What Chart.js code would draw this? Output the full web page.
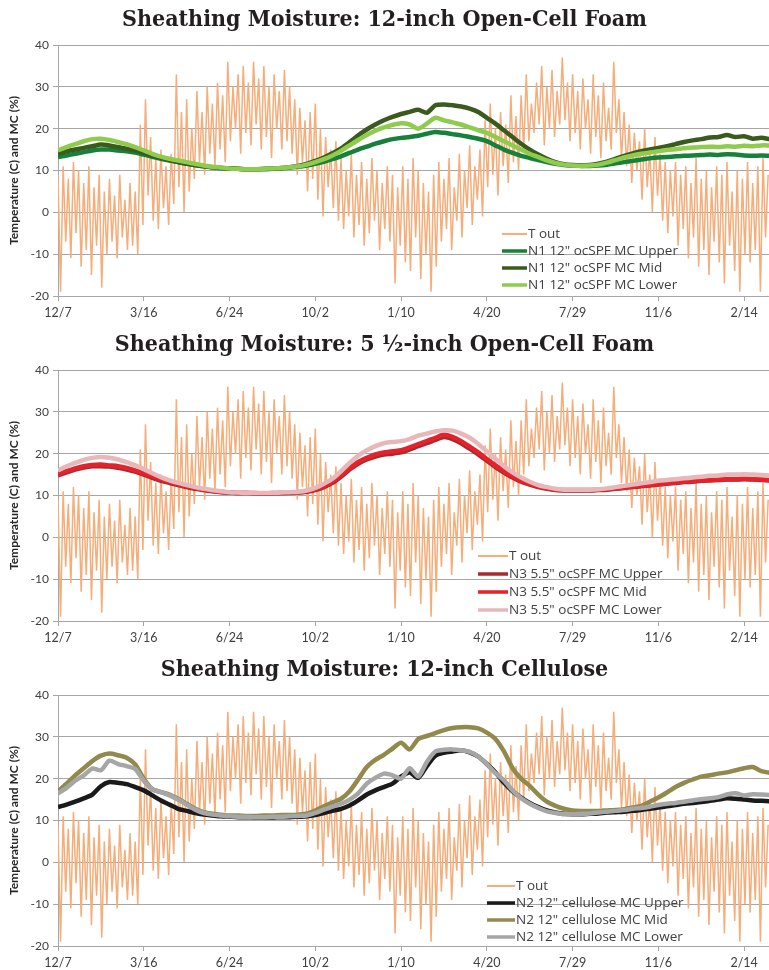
<!DOCTYPE html>
<html>
<head>
<meta charset="utf-8">
<script src="https://cdn.jsdelivr.net/npm/chart.js@4.4.0/dist/chart.umd.min.js"></script>
<style>
  body { margin: 0; background: #fff; }
  canvas { display: block; }
</style>
</head>
<body>
<canvas id="c1" width="769" height="325"></canvas>
<canvas id="c2" width="769" height="325"></canvas>
<canvas id="c3" width="769" height="325"></canvas>
<script>
// x axis: days after 12/7, one label every 100 days
var xLabels = ['12/7', '3/16', '6/24', '10/2', '1/10', '4/20', '7/29', '11/6', '2/14'];
var tStep = 3;    // T out read every 3 days (alternating highs/lows)
var mcStep = 10;  // moisture content read every 10 days

// outdoor temperature, same in all three panels
var tOut = [
  9, -19, 11, -7, 8, -11, 12, -5, 10, -13,
  7, -9, 11, -15, 6, -8, 9, -18, 5, -10,
  8, -7, 4, -11, 9, -6, 3, -9, 7, -8,
  5, -10, 21, -3, 27, 4, 18, -2, 13, -4,
  15, 1, 11, -3, 14, 2, 33, 6, 24, 0,
  27, 5, 20, 8, 29, 12, 24, 9, 30, 14,
  26, 11, 31, 15, 28, 12, 36, 17, 30, 20,
  33, 14, 35, 19, 31, 16, 36, 21, 32, 15,
  35, 18, 30, 13, 33, 20, 29, 15, 34, 17,
  30, 14, 27, 9, 25, 12, 22, 5, 24, 8,
  26, 3, 20, -1, 18, 6, 15, 1, 17, -2,
  13, -4, 10, -1, 14, -6, 9, -3, 12, -8,
  8, -5, 13, -2, 10, -9, 7, -4, 11, -7,
  9, -17, 6, -8, 11, -12, 8, -14, 13, -6,
  10, -16, 7, -10, 5, -19, 9, -13, 12, -7,
  8, -4, 13, -9, 6, -2, 14, -6, 10, 1,
  16, -3, 11, 3, 15, -1, 22, 6, 26, 9,
  20, 4, 24, 11, 21, 7, 28, 12, 23, 10,
  28, 15, 33, 17, 26, 19, 31, 21, 35, 16,
  30, 20, 34, 18, 29, 21, 37, 22, 31, 17,
  33, 19, 29, 15, 32, 20, 27, 14, 33, 18,
  28, 13, 31, 17, 25, 15, 36, 19, 27, 13,
  24, 11, 21, 7, 19, 10, 17, 3, 20, 6,
  15, 0, 18, 4, 14, -2, 12, -5, 10, -1,
  12, -8, 9, -4, 11, -11, 7, -6, 13, -13,
  8, -9, 10, -15, 6, -7, 11, -12, 9, -17,
  12, -8, 5, -14, 10, -19, 8, -10, 12, -12,
  7, -9, 11, -19, 13, -6, 9
];

// N1 12" ocSPF
var p1Upper = [
  13.2,13.6,14.0,14.4,14.8,15.0,15.0,14.8,14.6,14.3,
  13.8,13.3,12.8,12.4,12.0,11.6,11.3,11.0,10.8,10.6,
  10.5,10.4,10.3,10.3,10.3,10.4,10.5,10.7,10.9,11.2,
  11.6,12.1,12.7,13.4,14.2,15.0,15.7,16.4,17.0,17.5,
  17.8,18.0,18.3,18.8,19.2,19.0,18.7,18.4,18.0,17.6,
  17.0,16.0,15.0,14.2,13.5,13.0,12.5,12.0,11.6,11.3,
  11.2,11.1,11.1,11.2,11.4,11.7,12.0,12.3,12.6,12.9,
  13.1,13.2,13.4,13.5,13.6,13.7,13.8,13.7,13.9,13.8,
  13.6,13.5,13.6,13.5
];
var p1Mid = [
  14.0,14.6,15.0,15.4,15.8,16.2,16.0,15.6,15.2,14.8,
  14.2,13.6,13.0,12.5,12.0,11.6,11.3,11.0,10.8,10.6,
  10.5,10.4,10.3,10.3,10.4,10.5,10.6,10.8,11.1,11.6,
  12.3,13.1,14.1,15.3,16.8,18.4,19.8,21.0,22.0,22.8,
  23.5,24.0,24.5,23.8,25.6,25.8,25.6,25.3,24.8,24.0,
  22.6,21.2,19.6,18.0,16.4,15.0,13.8,12.8,12.0,11.5,
  11.3,11.2,11.3,11.6,12.1,12.8,13.5,14.1,14.6,15.0,
  15.4,15.8,16.3,16.8,17.2,17.5,17.9,18.0,18.5,18.0,
  18.2,17.6,17.8,17.5
];
var p1Lower = [
  14.8,15.6,16.3,17.0,17.5,17.6,17.3,16.8,16.3,15.6,
  14.8,14.0,13.3,12.8,12.4,12.0,11.6,11.2,10.9,10.7,
  10.5,10.4,10.3,10.3,10.4,10.5,10.6,10.8,11.0,11.4,
  12.0,12.7,13.6,14.7,16.0,17.3,18.5,19.5,20.3,20.9,
  21.3,21.0,20.0,21.2,22.6,22.0,21.5,21.0,20.3,19.6,
  19.0,18.0,17.0,16.0,15.0,14.0,13.2,12.4,11.8,11.4,
  11.2,11.1,11.2,11.4,11.9,12.5,13.1,13.6,14.0,14.3,
  14.6,14.9,15.1,15.3,15.5,15.6,15.7,15.6,15.8,15.7,
  15.9,15.8,16.0,16.0
];

// N3 5.5" ocSPF
var p2Upper = [
  14.8,15.5,16.2,16.7,17.0,17.0,16.9,16.6,16.2,15.7,
  15.0,14.2,13.5,13.0,12.5,12.0,11.6,11.3,11.0,10.8,
  10.7,10.6,10.6,10.5,10.5,10.5,10.6,10.6,10.7,10.9,
  11.3,12.0,13.0,14.5,16.2,17.6,18.6,19.3,19.8,20.0,
  20.3,21.0,21.8,22.5,23.3,24.0,23.5,22.5,21.2,19.8,
  18.3,16.8,15.5,14.3,13.3,12.6,12.0,11.6,11.3,11.2,
  11.2,11.2,11.2,11.3,11.4,11.6,11.8,12.0,12.2,12.4,
  12.6,12.8,13.0,13.2,13.3,13.5,13.6,13.7,13.8,13.8,
  13.9,13.8,13.7,13.6
];
var p2Mid = [
  15.0,15.8,16.5,17.0,17.3,17.4,17.2,17.0,16.6,16.0,
  15.3,14.5,13.8,13.2,12.7,12.2,11.8,11.4,11.1,10.9,
  10.7,10.6,10.6,10.6,10.5,10.6,10.6,10.7,10.8,11.0,
  11.5,12.2,13.3,14.8,16.5,18.0,19.0,19.8,20.3,20.6,
  20.8,21.5,22.3,23.0,23.8,24.5,24.0,23.0,21.7,20.3,
  18.7,17.2,15.8,14.6,13.5,12.8,12.2,11.7,11.4,11.3,
  11.3,11.3,11.3,11.4,11.5,11.7,11.9,12.1,12.3,12.5,
  12.7,12.9,13.1,13.3,13.4,13.6,13.7,13.8,13.9,13.9,
  14.0,13.9,13.8,13.7
];
var p2Lower = [
  16.0,17.0,17.8,18.5,19.0,19.2,19.0,18.6,18.0,17.2,
  16.3,15.3,14.4,13.6,13.0,12.5,12.0,11.6,11.3,11.0,
  10.8,10.7,10.6,10.6,10.6,10.6,10.7,10.8,10.9,11.2,
  11.8,12.8,14.0,15.8,17.8,19.5,20.8,21.8,22.5,22.8,
  23.0,23.5,24.3,24.8,25.3,25.6,25.5,24.8,23.8,22.3,
  20.5,18.8,17.0,15.5,14.3,13.3,12.5,12.0,11.6,11.4,
  11.4,11.4,11.4,11.5,11.7,12.0,12.3,12.6,12.9,13.2,
  13.5,13.7,13.9,14.1,14.3,14.5,14.7,14.8,15.0,15.0,
  15.1,15.0,14.9,14.8
];

// N2 12" cellulose
var p3Upper = [
  13.2,13.8,14.5,15.3,16.2,18.2,19.2,19.0,18.7,18.0,
  17.2,16.0,14.8,13.8,12.8,12.3,11.8,11.4,11.2,11.0,
  10.9,10.8,10.8,10.7,10.7,10.7,10.8,10.8,10.9,11.0,
  11.3,11.8,12.3,12.8,13.6,14.8,16.2,17.2,18.0,18.8,
  20.5,21.5,20.2,23.0,25.5,26.2,26.5,26.8,26.3,25.3,
  23.5,21.5,19.0,17.0,15.5,14.2,13.2,12.4,11.9,11.6,
  11.5,11.5,11.6,11.7,11.9,12.0,12.1,12.3,12.5,12.8,
  13.1,13.4,13.7,14.0,14.2,14.4,14.7,15.0,15.3,15.2,
  15.0,14.8,14.7,14.6
];
var p3Mid = [
  17.0,18.8,20.8,22.5,24.2,25.5,26.0,25.6,25.0,23.4,
  20.0,17.5,16.8,16.2,15.2,14.0,12.8,12.0,11.6,11.4,
  11.2,11.2,11.1,11.1,11.2,11.2,11.3,11.3,11.4,11.6,
  12.4,13.4,14.3,15.2,17.0,19.8,22.8,24.5,25.7,27.2,
  28.6,27.0,29.5,30.2,30.9,31.6,32.1,32.3,32.3,32.0,
  31.0,29.5,26.5,22.5,20.0,18.3,16.2,14.5,13.5,12.8,
  12.4,12.3,12.3,12.3,12.4,12.5,12.7,13.1,13.5,14.5,
  15.5,16.7,18.0,19.0,19.8,20.5,20.8,21.2,21.5,22.0,
  22.5,22.8,21.8,21.4
];
var p3Lower = [
  16.5,17.8,19.5,20.8,22.4,22.0,24.3,23.5,23.0,22.3,
  19.5,17.4,16.8,16.0,15.0,13.8,12.6,11.8,11.4,11.2,
  11.0,10.9,10.9,10.8,10.8,10.9,10.9,11.0,11.1,11.2,
  11.8,12.6,13.3,14.0,15.0,16.5,18.8,20.2,21.2,20.8,
  20.0,22.5,20.5,24.0,26.5,26.9,27.0,26.8,26.4,25.3,
  23.5,21.3,19.6,17.2,15.3,14.0,13.0,12.2,11.8,11.5,
  11.5,11.6,11.7,11.9,12.1,12.3,12.5,12.8,13.0,13.3,
  13.7,14.0,14.2,14.5,14.8,15.1,15.3,15.6,16.2,16.5,
  16.0,16.3,16.2,16.1
];

var gridGray = '#a6a6a6';

function toXY(arr, step) {
  return arr.map(function (v, i) { return { x: i * step, y: v }; });
}

// legend drawn inside the plot, like the Excel original
var insideLegend = {
  id: 'insideLegend',
  afterDraw: function (chart, args, opts) {
    var ctx = chart.ctx;
    var top = chart.chartArea.top;
    ctx.save();
    ctx.font = '13.5px "Open Sans"';
    ctx.fillStyle = '#404040';
    ctx.textBaseline = 'middle';
    chart.data.datasets.forEach(function (ds, i) {
      var y = top + opts.y + i * opts.gap;
      ctx.strokeStyle = ds.borderColor;
      ctx.lineWidth = i === 0 ? 2 : 3.5;
      ctx.beginPath();
      ctx.moveTo(opts.x, y);
      ctx.lineTo(opts.x + opts.len, y);
      ctx.stroke();
      ctx.fillText(ds.label, opts.x + opts.len + 1, y);
    });
    ctx.restore();
  }
};

function makeChart(id, title, names, colors, series, legendPos) {
  var datasets = [{
    label: 'T out',
    data: toXY(tOut, tStep),
    borderColor: '#f5ad7a',
    borderWidth: 1.5,
    order: 4
  }];
  series.forEach(function (s, i) {
    datasets.push({
      label: names[i],
      data: toXY(s, mcStep),
      borderColor: colors[i],
      borderWidth: 4.5,
      tension: 0.25,
      order: 3 - i
    });
  });

  new Chart(document.getElementById(id), {
    type: 'line',
    data: { datasets: datasets },
    plugins: [insideLegend],
    options: {
      responsive: false,
      animation: false,
      devicePixelRatio: 1,
      elements: { point: { radius: 0 } },
      layout: { padding: 0 },
      plugins: {
        legend: { display: false },
        tooltip: { enabled: false },
        title: {
          display: true,
          text: title,
          color: '#231f20',
          font: { family: 'DejaVu Serif Condensed', size: 23, weight: 'bold', lineHeight: 1.2 },
          padding: { top: 6, bottom: 11.4 }
        },
        insideLegend: legendPos
      },
      scales: {
        x: {
          type: 'linear',
          min: 0,
          max: 829,
          afterFit: function (scale) { scale.height = 29; },
          ticks: {
            stepSize: 100,
            includeBounds: false,
            maxRotation: 0,
            padding: 4,
            color: '#404040',
            font: { family: 'Lato', size: 12.5 },
            callback: function (v) { return xLabels[v / 100]; }
          },
          grid: { drawOnChartArea: false, drawTicks: true, tickLength: 5, color: gridGray },
          border: { color: gridGray }
        },
        y: {
          min: -20,
          max: 40,
          afterFit: function (scale) { scale.width = 58; },
          ticks: {
            stepSize: 10,
            padding: 4,
            color: '#404040',
            font: { family: 'Lato', size: 12 }
          },
          grid: { color: gridGray, tickLength: 5 },
          border: { color: gridGray },
          title: {
            display: true,
            text: 'Temperature (C) and MC (%)',
            color: '#262626',
            font: { family: 'Lato', size: 12, weight: 'bold' },
            padding: { top: 7, bottom: 0 }
          }
        }
      }
    }
  });
}

makeChart('c1', 'Sheathing Moisture: 12-inch Open-Cell Foam',
  ['N1 12" ocSPF MC Upper', 'N1 12" ocSPF MC Mid', 'N1 12" ocSPF MC Lower'],
  ['#17803b', '#3b5a1e', '#8fcc4e'],
  [p1Upper, p1Mid, p1Lower],
  { x: 502, y: 189, gap: 17, len: 25 });

makeChart('c2', 'Sheathing Moisture: 5 \u00bd-inch Open-Cell Foam',
  ['N3 5.5" ocSPF MC Upper', 'N3 5.5" ocSPF MC Mid', 'N3 5.5" ocSPF MC Lower'],
  ['#a82a2e', '#e3222b', '#e8b7b9'],
  [p2Upper, p2Mid, p2Lower],
  { x: 478, y: 186, gap: 18, len: 30 });

makeChart('c3', 'Sheathing Moisture: 12-inch Cellulose',
  ['N2 12" cellulose MC Upper', 'N2 12" cellulose MC Mid', 'N2 12" cellulose MC Lower'],
  ['#1a1a1a', '#918a4c', '#a6a6a6'],
  [p3Upper, p3Mid, p3Lower],
  { x: 487, y: 191, gap: 17, len: 28 });
</script>
</body>
</html>
